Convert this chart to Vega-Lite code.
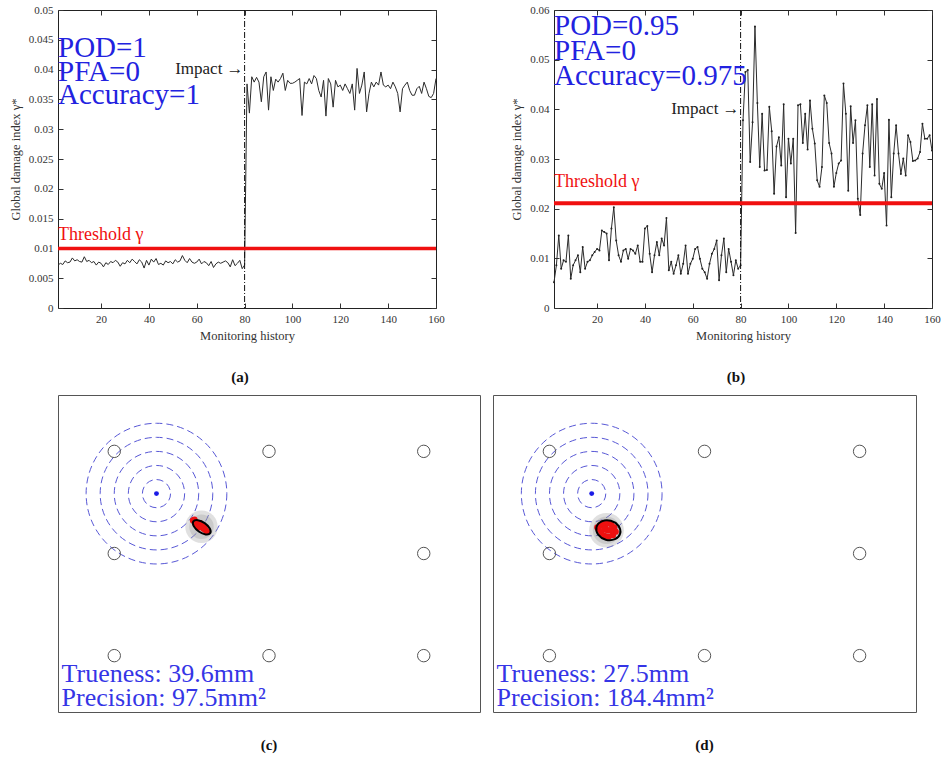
{
"$schema": "https://vega.github.io/schema/vega-lite/v6.json",
"padding": {"left": 8, "top": 3, "right": 0, "bottom": 0},
"background": "white",
"config": {
  "font": "Liberation Serif",
  "text": {"font": "Liberation Serif"},
  "view": {"stroke": "#222", "strokeWidth": 1},
  "axis": {"domain": false, "grid": false, "tickSize": -5, "tickColor": "#333", "tickWidth": 1, "labelPadding": 10, "labelFlush": false, "labelFont": "Liberation Serif", "labelFontSize": 11, "labelColor": "#333", "titleFont": "Liberation Serif", "titleFontSize": 12.5, "titleFontWeight": "normal", "titleColor": "#333"},
  "axisX": {"titlePadding": 5},
  "axisY": {"titlePadding": 6},
  "title": {"font": "Liberation Serif", "fontSize": 15, "fontWeight": "bold", "color": "#111"}
},
"datasets": {
  "seriesA": [
{"step":2,"gamma":0.0072},{"step":3,"gamma":0.0075},{"step":4,"gamma":0.0073},{"step":5,"gamma":0.0079},{"step":6,"gamma":0.0076},{"step":7,"gamma":0.0077},{"step":8,"gamma":0.0084},{"step":9,"gamma":0.0079},{"step":10,"gamma":0.0081},{"step":11,"gamma":0.0078},{"step":12,"gamma":0.0077},{"step":13,"gamma":0.0086},{"step":14,"gamma":0.0078},{"step":15,"gamma":0.0080},{"step":16,"gamma":0.0076},{"step":17,"gamma":0.0078},{"step":18,"gamma":0.0072},{"step":19,"gamma":0.0077},{"step":20,"gamma":0.0075},{"step":21,"gamma":0.0069},{"step":22,"gamma":0.0076},{"step":23,"gamma":0.0073},{"step":24,"gamma":0.0078},{"step":25,"gamma":0.0076},{"step":26,"gamma":0.0080},{"step":27,"gamma":0.0077},{"step":28,"gamma":0.0070},{"step":29,"gamma":0.0076},{"step":30,"gamma":0.0074},{"step":31,"gamma":0.0080},{"step":32,"gamma":0.0076},{"step":33,"gamma":0.0082},{"step":34,"gamma":0.0078},{"step":35,"gamma":0.0074},{"step":36,"gamma":0.0081},{"step":37,"gamma":0.0077},{"step":38,"gamma":0.0067},{"step":39,"gamma":0.0080},{"step":40,"gamma":0.0072},{"step":41,"gamma":0.0082},{"step":42,"gamma":0.0077},{"step":43,"gamma":0.0083},{"step":44,"gamma":0.0073},{"step":45,"gamma":0.0075},{"step":46,"gamma":0.0072},{"step":47,"gamma":0.0079},{"step":48,"gamma":0.0076},{"step":49,"gamma":0.0078},{"step":50,"gamma":0.0074},{"step":51,"gamma":0.0081},{"step":52,"gamma":0.0077},{"step":53,"gamma":0.0079},{"step":54,"gamma":0.0088},{"step":55,"gamma":0.0080},{"step":56,"gamma":0.0076},{"step":57,"gamma":0.0083},{"step":58,"gamma":0.0077},{"step":59,"gamma":0.0075},{"step":60,"gamma":0.0077},{"step":61,"gamma":0.0082},{"step":62,"gamma":0.0074},{"step":63,"gamma":0.0078},{"step":64,"gamma":0.0076},{"step":65,"gamma":0.0071},{"step":66,"gamma":0.0078},{"step":67,"gamma":0.0068},{"step":68,"gamma":0.0074},{"step":69,"gamma":0.0077},{"step":70,"gamma":0.0075},{"step":71,"gamma":0.0077},{"step":72,"gamma":0.0079},{"step":73,"gamma":0.0076},{"step":74,"gamma":0.0069},{"step":75,"gamma":0.0081},{"step":76,"gamma":0.0071},{"step":77,"gamma":0.0075},{"step":78,"gamma":0.0080},{"step":79,"gamma":0.0066},{"step":80,"gamma":0.0072},
{"step":81,"gamma":0.0376},{"step":82,"gamma":0.0327},{"step":83,"gamma":0.0388},{"step":84,"gamma":0.0379},{"step":85,"gamma":0.0387},{"step":86,"gamma":0.0379},{"step":87,"gamma":0.0346},{"step":88,"gamma":0.0388},{"step":89,"gamma":0.0396},{"step":90,"gamma":0.0332},{"step":91,"gamma":0.0388},{"step":92,"gamma":0.0365},{"step":93,"gamma":0.0384},{"step":94,"gamma":0.0379},{"step":95,"gamma":0.0385},{"step":96,"gamma":0.0394},{"step":97,"gamma":0.0365},{"step":98,"gamma":0.0382},{"step":99,"gamma":0.0377},{"step":100,"gamma":0.0377},{"step":101,"gamma":0.0379},{"step":102,"gamma":0.0382},{"step":103,"gamma":0.0385},{"step":104,"gamma":0.0323},{"step":105,"gamma":0.0379},{"step":106,"gamma":0.0376},{"step":107,"gamma":0.0385},{"step":108,"gamma":0.0376},{"step":109,"gamma":0.0390},{"step":110,"gamma":0.0385},{"step":111,"gamma":0.0365},{"step":112,"gamma":0.0354},{"step":113,"gamma":0.0382},{"step":114,"gamma":0.0322},{"step":115,"gamma":0.0385},{"step":116,"gamma":0.0376},{"step":117,"gamma":0.0337},{"step":118,"gamma":0.0382},{"step":119,"gamma":0.0371},{"step":120,"gamma":0.0374},{"step":121,"gamma":0.0365},{"step":122,"gamma":0.0376},{"step":123,"gamma":0.0368},{"step":124,"gamma":0.0360},{"step":125,"gamma":0.0376},{"step":126,"gamma":0.0332},{"step":127,"gamma":0.0402},{"step":128,"gamma":0.0360},{"step":129,"gamma":0.0374},{"step":130,"gamma":0.0396},{"step":131,"gamma":0.0329},{"step":132,"gamma":0.0360},{"step":133,"gamma":0.0379},{"step":134,"gamma":0.0371},{"step":135,"gamma":0.0379},{"step":136,"gamma":0.0374},{"step":137,"gamma":0.0396},{"step":138,"gamma":0.0374},{"step":139,"gamma":0.0371},{"step":140,"gamma":0.0374},{"step":141,"gamma":0.0368},{"step":142,"gamma":0.0379},{"step":143,"gamma":0.0371},{"step":144,"gamma":0.0360},{"step":145,"gamma":0.0329},{"step":146,"gamma":0.0368},{"step":147,"gamma":0.0374},{"step":148,"gamma":0.0379},{"step":149,"gamma":0.0365},{"step":150,"gamma":0.0357},{"step":151,"gamma":0.0357},{"step":152,"gamma":0.0368},{"step":153,"gamma":0.0372},{"step":154,"gamma":0.0360},{"step":155,"gamma":0.0379},{"step":156,"gamma":0.0368},{"step":157,"gamma":0.0355},{"step":158,"gamma":0.0353},{"step":159,"gamma":0.0360},{"step":160,"gamma":0.0385}
  ],
  "seriesB": [
{"step":2,"gamma":0.0052},{"step":3,"gamma":0.0086},{"step":4,"gamma":0.0146},{"step":5,"gamma":0.0079},{"step":6,"gamma":0.0096},{"step":7,"gamma":0.0093},{"step":8,"gamma":0.0146},{"step":9,"gamma":0.0059},{"step":10,"gamma":0.0086},{"step":11,"gamma":0.0096},{"step":12,"gamma":0.0106},{"step":13,"gamma":0.0072},{"step":14,"gamma":0.0123},{"step":15,"gamma":0.0079},{"step":16,"gamma":0.0093},{"step":17,"gamma":0.0096},{"step":18,"gamma":0.0106},{"step":19,"gamma":0.0113},{"step":20,"gamma":0.0119},{"step":21,"gamma":0.0116},{"step":22,"gamma":0.0156},{"step":23,"gamma":0.0153},{"step":24,"gamma":0.0150},{"step":25,"gamma":0.0096},{"step":26,"gamma":0.0160},{"step":27,"gamma":0.0203},{"step":28,"gamma":0.0136},{"step":29,"gamma":0.0106},{"step":30,"gamma":0.0093},{"step":31,"gamma":0.0116},{"step":32,"gamma":0.0119},{"step":33,"gamma":0.0099},{"step":34,"gamma":0.0119},{"step":35,"gamma":0.0116},{"step":36,"gamma":0.0109},{"step":37,"gamma":0.0126},{"step":38,"gamma":0.0093},{"step":39,"gamma":0.0093},{"step":40,"gamma":0.0160},{"step":41,"gamma":0.0165},{"step":42,"gamma":0.0109},{"step":43,"gamma":0.0072},{"step":44,"gamma":0.0106},{"step":45,"gamma":0.0133},{"step":46,"gamma":0.0106},{"step":47,"gamma":0.0140},{"step":48,"gamma":0.0126},{"step":49,"gamma":0.0181},{"step":50,"gamma":0.0076},{"step":51,"gamma":0.0093},{"step":52,"gamma":0.0069},{"step":53,"gamma":0.0086},{"step":54,"gamma":0.0106},{"step":55,"gamma":0.0069},{"step":56,"gamma":0.0089},{"step":57,"gamma":0.0126},{"step":58,"gamma":0.0069},{"step":59,"gamma":0.0089},{"step":60,"gamma":0.0099},{"step":61,"gamma":0.0119},{"step":62,"gamma":0.0123},{"step":63,"gamma":0.0099},{"step":64,"gamma":0.0079},{"step":65,"gamma":0.0072},{"step":66,"gamma":0.0059},{"step":67,"gamma":0.0089},{"step":68,"gamma":0.0109},{"step":69,"gamma":0.0119},{"step":70,"gamma":0.0136},{"step":71,"gamma":0.0056},{"step":72,"gamma":0.0106},{"step":73,"gamma":0.0140},{"step":74,"gamma":0.0072},{"step":75,"gamma":0.0119},{"step":76,"gamma":0.0093},{"step":77,"gamma":0.0066},{"step":78,"gamma":0.0096},{"step":79,"gamma":0.0079},{"step":80,"gamma":0.0086},
{"step":81,"gamma":0.0378},{"step":82,"gamma":0.0475},{"step":83,"gamma":0.0479},{"step":84,"gamma":0.0294},{"step":85,"gamma":0.0374},{"step":86,"gamma":0.0567},{"step":87,"gamma":0.0413},{"step":88,"gamma":0.0284},{"step":89,"gamma":0.0391},{"step":90,"gamma":0.0277},{"step":91,"gamma":0.0278},{"step":92,"gamma":0.0405},{"step":93,"gamma":0.0356},{"step":94,"gamma":0.0230},{"step":95,"gamma":0.0325},{"step":96,"gamma":0.0344},{"step":97,"gamma":0.0287},{"step":98,"gamma":0.0410},{"step":99,"gamma":0.0223},{"step":100,"gamma":0.0341},{"step":101,"gamma":0.0291},{"step":102,"gamma":0.0341},{"step":103,"gamma":0.0151},{"step":104,"gamma":0.0408},{"step":105,"gamma":0.0410},{"step":106,"gamma":0.0332},{"step":107,"gamma":0.0391},{"step":108,"gamma":0.0319},{"step":109,"gamma":0.0418},{"step":110,"gamma":0.0361},{"step":111,"gamma":0.0331},{"step":112,"gamma":0.0257},{"step":113,"gamma":0.0244},{"step":114,"gamma":0.0284},{"step":115,"gamma":0.0428},{"step":116,"gamma":0.0413},{"step":117,"gamma":0.0332},{"step":118,"gamma":0.0311},{"step":119,"gamma":0.0244},{"step":120,"gamma":0.0272},{"step":121,"gamma":0.0291},{"step":122,"gamma":0.0297},{"step":123,"gamma":0.0452},{"step":124,"gamma":0.0391},{"step":125,"gamma":0.0236},{"step":126,"gamma":0.0406},{"step":127,"gamma":0.0332},{"step":128,"gamma":0.0378},{"step":129,"gamma":0.0220},{"step":130,"gamma":0.0187},{"step":131,"gamma":0.0311},{"step":132,"gamma":0.0368},{"step":133,"gamma":0.0408},{"step":134,"gamma":0.0284},{"step":135,"gamma":0.0410},{"step":136,"gamma":0.0267},{"step":137,"gamma":0.0421},{"step":138,"gamma":0.0250},{"step":139,"gamma":0.0240},{"step":140,"gamma":0.0272},{"step":141,"gamma":0.0166},{"step":142,"gamma":0.0379},{"step":143,"gamma":0.0223},{"step":144,"gamma":0.0311},{"step":145,"gamma":0.0368},{"step":146,"gamma":0.0311},{"step":147,"gamma":0.0270},{"step":148,"gamma":0.0301},{"step":149,"gamma":0.0267},{"step":150,"gamma":0.0348},{"step":151,"gamma":0.0334},{"step":152,"gamma":0.0296},{"step":153,"gamma":0.0297},{"step":154,"gamma":0.0301},{"step":155,"gamma":0.0314},{"step":156,"gamma":0.0371},{"step":157,"gamma":0.0341},{"step":158,"gamma":0.0341},{"step":159,"gamma":0.0348},{"step":160,"gamma":0.0317}
  ],
  "sensors": [
{"x_mm":40,"y_mm":185},{"x_mm":150,"y_mm":185},{"x_mm":260,"y_mm":185},{"x_mm":40,"y_mm":112.5},{"x_mm":260,"y_mm":112.5},{"x_mm":40,"y_mm":40},{"x_mm":150,"y_mm":40},{"x_mm":260,"y_mm":40}
  ],
  "rings": [
{"x_mm":70,"y_mm":155,"radius_mm":10},{"x_mm":70,"y_mm":155,"radius_mm":20},{"x_mm":70,"y_mm":155,"radius_mm":30},{"x_mm":70,"y_mm":155,"radius_mm":40},{"x_mm":70,"y_mm":155,"radius_mm":50}
  ],
  "actual": [{"x_mm":70,"y_mm":155}],
  "samplesC": [
{"x_mm":96,"y_mm":136},{"x_mm":97.5,"y_mm":135},{"x_mm":99,"y_mm":134},{"x_mm":100.5,"y_mm":132.5},{"x_mm":102,"y_mm":131.5},{"x_mm":103.5,"y_mm":130},{"x_mm":105,"y_mm":129},{"x_mm":106,"y_mm":128},{"x_mm":98,"y_mm":133},{"x_mm":101,"y_mm":134},{"x_mm":103,"y_mm":132},{"x_mm":100,"y_mm":131},{"x_mm":104,"y_mm":131.5},{"x_mm":97,"y_mm":136.5}
  ],
  "samplesD": [
{"x_mm":74,"y_mm":131},{"x_mm":76,"y_mm":132.5},{"x_mm":78,"y_mm":134},{"x_mm":80,"y_mm":133},{"x_mm":82,"y_mm":134},{"x_mm":84,"y_mm":133},{"x_mm":86,"y_mm":131},{"x_mm":87,"y_mm":128},{"x_mm":85,"y_mm":125.5},{"x_mm":82,"y_mm":124.5},{"x_mm":79,"y_mm":125},{"x_mm":77,"y_mm":127},{"x_mm":81,"y_mm":129},{"x_mm":83,"y_mm":129},{"x_mm":79,"y_mm":130},{"x_mm":75,"y_mm":129.5}
  ],
  "ellipseC": [{"x_mm":102.2,"y_mm":131.1,"semi_major_mm":7.3,"angle_deg":35}],
  "ellipseD": [{"x_mm":81.8,"y_mm":129,"semi_major_mm":8.7,"angle_deg":15}],
  "haloC": [{"x_mm":102,"y_mm":131.5}],
  "haloD": [{"x_mm":80.5,"y_mm":129}],
  "scoreC": [{"trueness_mm": 39.6, "precision_mm2": 97.5}],
  "scoreD": [{"trueness_mm": 27.5, "precision_mm2": 184.4}]
},
"bounds": "flush",
"spacing": 385,
"vconcat": [
 {"hconcat": [
  {"width": 378, "height": 298,
   "title": {"text": "(a)", "orient": "bottom", "offset": 28, "dx": -7},
   "resolve": {"axis": {"x": "independent", "y": "independent"}},
   "layer": [
    {"data": {"name": "seriesA"}, "mark": {"type": "line", "color": "#2b2b2b", "strokeWidth": 1},
     "encoding": {
      "x": {"field": "step", "type": "quantitative", "scale": {"domain": [2, 160], "nice": false, "zero": false}, "axis": {"orient": "bottom", "values": [20,40,60,80,100,120,140,160], "title": "Monitoring history"}},
      "y": {"field": "gamma", "type": "quantitative", "scale": {"domain": [0, 0.05], "nice": false}, "axis": {"orient": "left", "values": [0,0.005,0.01,0.015,0.02,0.025,0.03,0.035,0.04,0.045,0.05], "format": "~g", "title": "Global damage index γ*"}}}},
    {"data": {"values": [{"event": "Impact", "step": 80}]}, "mark": {"type": "rule", "color": "#111", "strokeWidth": 1, "strokeDash": [6,2,1,2]},
     "encoding": {"x": {"field": "step", "type": "quantitative", "axis": {"orient": "top", "values": [20,40,60,80,100,120,140,160], "labels": false, "title": null}}}},
    {"data": {"values": [{"label": "Threshold γ", "threshold": 0.01}]}, "mark": {"type": "rule", "color": "#f01010", "strokeWidth": 3.5},
     "encoding": {"y": {"field": "threshold", "type": "quantitative", "axis": {"orient": "right", "values": [0,0.005,0.01,0.015,0.02,0.025,0.03,0.035,0.04,0.045,0.05], "labels": false, "title": null}}}},
    {"data": {"values": [{"label": "Threshold γ", "threshold": 0.01}]}, "mark": {"type": "text", "font": "Liberation Serif", "align": "left", "baseline": "alphabetic", "color": "#f01010", "fontSize": 18, "dy": -8},
     "encoding": {"x": {"datum": 2, "type": "quantitative", "axis": null}, "y": {"field": "threshold", "type": "quantitative", "axis": null}, "text": {"field": "label"}}},
    {"data": {"values": [{"event": "Impact", "step": 80}]}, "mark": {"type": "text", "font": "Liberation Serif", "align": "right", "baseline": "alphabetic", "color": "#222", "fontSize": 17, "dx": -1},
     "encoding": {"x": {"field": "step", "type": "quantitative", "axis": null}, "y": {"datum": 0.0393, "type": "quantitative", "axis": null}, "text": {"value": "Impact →"}}},
    {"data": {"values": [{"POD": 1, "PFA": 0, "Accuracy": 1}]}, "mark": {"type": "text", "font": "Liberation Serif", "align": "left", "baseline": "alphabetic", "color": "#2222e0", "fontSize": 29, "lineHeight": 23.6},
     "encoding": {"x": {"datum": 2, "type": "quantitative", "axis": null}, "y": {"datum": 0.0421, "type": "quantitative", "axis": null}, "text": {"value": ["POD=1", "PFA=0", "Accuracy=1"]}}}
   ]},
  {"width": 378, "height": 298,
   "title": {"text": "(b)", "orient": "bottom", "offset": 28, "dx": -7},
   "resolve": {"axis": {"x": "independent", "y": "independent"}},
   "layer": [
    {"data": {"name": "seriesB"}, "mark": {"type": "line", "color": "#2b2b2b", "strokeWidth": 1, "point": {"filled": true, "size": 4, "color": "#222"}},
     "encoding": {
      "x": {"field": "step", "type": "quantitative", "scale": {"domain": [2, 160], "nice": false, "zero": false}, "axis": {"orient": "bottom", "values": [20,40,60,80,100,120,140,160], "title": "Monitoring history"}},
      "y": {"field": "gamma", "type": "quantitative", "scale": {"domain": [0, 0.06], "nice": false}, "axis": {"orient": "left", "values": [0,0.01,0.02,0.03,0.04,0.05,0.06], "format": "~g", "title": "Global damage index γ*"}}}},
    {"data": {"values": [{"event": "Impact", "step": 80}]}, "mark": {"type": "rule", "color": "#111", "strokeWidth": 1, "strokeDash": [6,2,1,2]},
     "encoding": {"x": {"field": "step", "type": "quantitative", "axis": {"orient": "top", "values": [20,40,60,80,100,120,140,160], "labels": false, "title": null}}}},
    {"data": {"values": [{"label": "Threshold γ", "threshold": 0.0211}]}, "mark": {"type": "rule", "color": "#f01010", "strokeWidth": 4},
     "encoding": {"y": {"field": "threshold", "type": "quantitative", "axis": {"orient": "right", "values": [0,0.01,0.02,0.03,0.04,0.05,0.06], "labels": false, "title": null}}}},
    {"data": {"values": [{"label": "Threshold γ", "threshold": 0.0211}]}, "mark": {"type": "text", "font": "Liberation Serif", "align": "left", "baseline": "alphabetic", "color": "#f01010", "fontSize": 18, "dy": -16},
     "encoding": {"x": {"datum": 2, "type": "quantitative", "axis": null}, "y": {"field": "threshold", "type": "quantitative", "axis": null}, "text": {"field": "label"}}},
    {"data": {"values": [{"event": "Impact", "step": 80}]}, "mark": {"type": "text", "font": "Liberation Serif", "align": "right", "baseline": "alphabetic", "color": "#222", "fontSize": 17, "dx": -1},
     "encoding": {"x": {"field": "step", "type": "quantitative", "axis": null}, "y": {"datum": 0.0391, "type": "quantitative", "axis": null}, "text": {"value": "Impact →"}}},
    {"data": {"values": [{"POD": 0.95, "PFA": 0, "Accuracy": 0.975}]}, "mark": {"type": "text", "font": "Liberation Serif", "align": "left", "baseline": "alphabetic", "color": "#2222e0", "fontSize": 29, "lineHeight": 24.7},
     "encoding": {"x": {"datum": 2, "type": "quantitative", "axis": null}, "y": {"datum": 0.0549, "type": "quantitative", "axis": null}, "text": {"value": ["POD=0.95", "PFA=0", "Accuracy=0.975"]}}}
   ]}
 ], "spacing": 118, "bounds": "flush"},
 {"hconcat": [
  {"width": 422, "height": 317,
   "view": {"stroke": "#555", "strokeWidth": 1},
   "title": {"text": "(c)", "orient": "bottom", "offset": 26},
   "layer": [
    {"data": {"name": "rings"}, "mark": {"type": "point", "shape": "circle", "filled": false, "color": "#4646d2", "strokeWidth": 1, "strokeDash": [7,4], "opacity": 0.9},
     "encoding": {
      "x": {"field": "x_mm", "type": "quantitative", "scale": {"domain": [0, 300], "nice": false, "zero": false}, "axis": null},
      "y": {"field": "y_mm", "type": "quantitative", "scale": {"domain": [0, 225], "nice": false, "zero": false}, "axis": null},
      "size": {"field": "radius_mm", "type": "quantitative", "scale": {"type": "pow", "exponent": 2, "domain": [0, 50], "range": [0, 19800]}, "legend": null}}},
    {"data": {"name": "sensors"}, "mark": {"type": "point", "shape": "circle", "filled": false, "color": "#555", "strokeWidth": 1, "size": 154, "opacity": 1},
     "encoding": {"x": {"field": "x_mm", "type": "quantitative", "axis": null}, "y": {"field": "y_mm", "type": "quantitative", "axis": null}}},
    {"data": {"name": "haloC"}, "mark": {"type": "point", "shape": "circle", "filled": true, "color": "#999", "size": 1050, "opacity": 0.3, "strokeWidth": 0},
     "encoding": {"x": {"field": "x_mm", "type": "quantitative", "axis": null}, "y": {"field": "y_mm", "type": "quantitative", "axis": null}}},
    {"data": {"name": "haloC"}, "mark": {"type": "point", "shape": "circle", "filled": true, "color": "#999", "size": 600, "opacity": 0.3, "strokeWidth": 0},
     "encoding": {"x": {"field": "x_mm", "type": "quantitative", "axis": null}, "y": {"field": "y_mm", "type": "quantitative", "axis": null}}},
    {"data": {"name": "samplesC"}, "mark": {"type": "point", "shape": "circle", "filled": true, "color": "#ee1010", "size": 40, "opacity": 1},
     "encoding": {"x": {"field": "x_mm", "type": "quantitative", "axis": null}, "y": {"field": "y_mm", "type": "quantitative", "axis": null}}},
    {"data": {"name": "ellipseC"}, "mark": {"type": "point", "shape": "M-1,0A1,0.5,0,1,0,1,0A1,0.5,0,1,0,-1,0Z", "filled": false, "color": "#000", "strokeWidth": 2, "opacity": 1},
     "encoding": {"x": {"field": "x_mm", "type": "quantitative", "axis": null}, "y": {"field": "y_mm", "type": "quantitative", "axis": null},
      "size": {"field": "semi_major_mm", "type": "quantitative", "legend": null}, "angle": {"field": "angle_deg", "type": "quantitative", "scale": null}}},
    {"data": {"name": "actual"}, "mark": {"type": "point", "shape": "circle", "filled": true, "color": "#1a1ae6", "size": 24, "opacity": 1},
     "encoding": {"x": {"field": "x_mm", "type": "quantitative", "axis": null}, "y": {"field": "y_mm", "type": "quantitative", "axis": null}}},
    {"data": {"name": "scoreC"}, "mark": {"type": "text", "font": "Liberation Serif", "align": "left", "baseline": "alphabetic", "color": "#3535e6", "fontSize": 26, "lineHeight": 24},
     "encoding": {"x": {"datum": 2.5, "type": "quantitative", "axis": null}, "y": {"datum": 21.3, "type": "quantitative", "axis": null}, "text": {"value": ["Trueness: 39.6mm", "Precision: 97.5mm²"]}}}
   ]},
  {"width": 423, "height": 317,
   "view": {"stroke": "#555", "strokeWidth": 1},
   "title": {"text": "(d)", "orient": "bottom", "offset": 26},
   "layer": [
    {"data": {"name": "rings"}, "mark": {"type": "point", "shape": "circle", "filled": false, "color": "#4646d2", "strokeWidth": 1, "strokeDash": [7,4], "opacity": 0.9},
     "encoding": {
      "x": {"field": "x_mm", "type": "quantitative", "scale": {"domain": [0, 300], "nice": false, "zero": false}, "axis": null},
      "y": {"field": "y_mm", "type": "quantitative", "scale": {"domain": [0, 225], "nice": false, "zero": false}, "axis": null},
      "size": {"field": "radius_mm", "type": "quantitative", "scale": {"type": "pow", "exponent": 2, "domain": [0, 50], "range": [0, 19880]}, "legend": null}}},
    {"data": {"name": "sensors"}, "mark": {"type": "point", "shape": "circle", "filled": false, "color": "#555", "strokeWidth": 1, "size": 154, "opacity": 1},
     "encoding": {"x": {"field": "x_mm", "type": "quantitative", "axis": null}, "y": {"field": "y_mm", "type": "quantitative", "axis": null}}},
    {"data": {"name": "haloD"}, "mark": {"type": "point", "shape": "circle", "filled": true, "color": "#999", "size": 1200, "opacity": 0.3, "strokeWidth": 0},
     "encoding": {"x": {"field": "x_mm", "type": "quantitative", "axis": null}, "y": {"field": "y_mm", "type": "quantitative", "axis": null}}},
    {"data": {"name": "haloD"}, "mark": {"type": "point", "shape": "circle", "filled": true, "color": "#999", "size": 750, "opacity": 0.3, "strokeWidth": 0},
     "encoding": {"x": {"field": "x_mm", "type": "quantitative", "axis": null}, "y": {"field": "y_mm", "type": "quantitative", "axis": null}}},
    {"data": {"name": "samplesD"}, "mark": {"type": "point", "shape": "circle", "filled": true, "color": "#ee1010", "size": 40, "opacity": 1},
     "encoding": {"x": {"field": "x_mm", "type": "quantitative", "axis": null}, "y": {"field": "y_mm", "type": "quantitative", "axis": null}}},
    {"data": {"name": "ellipseD"}, "mark": {"type": "point", "shape": "M-1,0A1,0.8,0,1,0,1,0A1,0.8,0,1,0,-1,0Z", "filled": false, "color": "#000", "strokeWidth": 2, "opacity": 1},
     "encoding": {"x": {"field": "x_mm", "type": "quantitative", "axis": null}, "y": {"field": "y_mm", "type": "quantitative", "axis": null},
      "size": {"field": "semi_major_mm", "type": "quantitative", "legend": null}, "angle": {"field": "angle_deg", "type": "quantitative", "scale": null}}},
    {"data": {"name": "actual"}, "mark": {"type": "point", "shape": "circle", "filled": true, "color": "#1a1ae6", "size": 24, "opacity": 1},
     "encoding": {"x": {"field": "x_mm", "type": "quantitative", "axis": null}, "y": {"field": "y_mm", "type": "quantitative", "axis": null}}},
    {"data": {"name": "scoreD"}, "mark": {"type": "text", "font": "Liberation Serif", "align": "left", "baseline": "alphabetic", "color": "#3535e6", "fontSize": 26, "lineHeight": 24},
     "encoding": {"x": {"datum": 2.5, "type": "quantitative", "axis": null}, "y": {"datum": 21.3, "type": "quantitative", "axis": null}, "text": {"value": ["Trueness: 27.5mm", "Precision: 184.4mm²"]}}}
   ]}
 ], "spacing": 13, "bounds": "flush"}
]
}
